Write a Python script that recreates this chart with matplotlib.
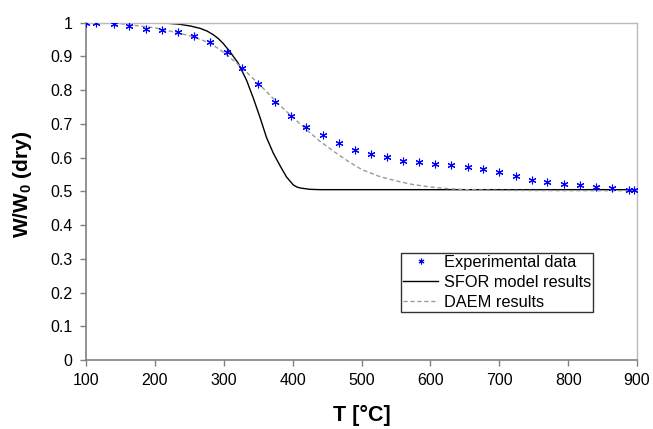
import matplotlib
matplotlib.use("Agg")
import matplotlib.pyplot as plt

plt.rcParams['font.family'] = ['Liberation Sans', 'DejaVu Sans']

# Experimental data
exp_T = [100, 115, 140, 163, 187, 210, 233, 257, 280, 304, 327, 350, 374, 397,
         420, 444, 467, 490, 514, 537, 560, 584, 607, 630, 654, 677, 700, 724,
         747, 770, 794, 817, 840, 864, 889, 896]
exp_W = [1.0, 1.0, 0.996, 0.990, 0.981, 0.978, 0.972, 0.961, 0.942, 0.912, 0.867,
         0.818, 0.766, 0.722, 0.691, 0.667, 0.644, 0.624, 0.611, 0.601, 0.591,
         0.587, 0.582, 0.577, 0.571, 0.566, 0.558, 0.546, 0.534, 0.527, 0.522,
         0.518, 0.513, 0.510, 0.505, 0.505]

# SFOR model
sfor_T = [100, 200, 215, 237, 252, 266, 276, 285, 292, 299, 309, 321, 333, 343,
          353, 362, 372, 382, 391, 401, 406, 411, 418, 425, 440, 900]
sfor_W = [1.0, 1.0, 0.999, 0.995, 0.99, 0.983, 0.975, 0.964, 0.953, 0.939, 0.914,
          0.880, 0.830, 0.776, 0.717, 0.660, 0.613, 0.575, 0.543, 0.519, 0.513,
          0.510, 0.508, 0.506, 0.505, 0.505]

# DAEM model
daem_T = [100, 150, 200, 250, 280, 300, 320, 340, 360, 380, 400, 420, 440, 460,
          480, 500, 525, 550, 575, 600, 625, 650, 700, 800, 900]
daem_W = [1.0, 0.997, 0.985, 0.962, 0.94, 0.912, 0.878, 0.84, 0.80, 0.758, 0.72,
          0.683, 0.648, 0.618, 0.59, 0.565, 0.545, 0.531, 0.52, 0.513, 0.508,
          0.505, 0.503, 0.502, 0.502]

x_ticks = [100, 200, 300, 400, 500, 600, 700, 800, 900]
y_ticks = [0, 0.1, 0.2, 0.3, 0.4, 0.5, 0.6, 0.7, 0.8, 0.9, 1]
y_labels = ['0', '0.1', '0.2', '0.3', '0.4', '0.5', '0.6', '0.7', '0.8', '0.9', '1']

fig = plt.figure(figsize=(6.53, 4.29), dpi=100)
ax = fig.add_axes([86/653, 1-360/429, 551/653, 337.3/429])

ax.plot(exp_T, exp_W, linestyle='none', marker=(6, 2, 0), markersize=5.5,
        markeredgewidth=0.8, color='#0000FF', label='Experimental data', zorder=3)
ax.plot(sfor_T, sfor_W, color='#000000', linewidth=1.0, label='SFOR model results', zorder=2)
ax.plot(daem_T, daem_W, color='#999999', linewidth=1.0, linestyle=(0, (3, 2)),
        label='DAEM results', zorder=2)

ax.set_xlim(100, 900)
ax.set_ylim(0, 1)
ax.set_xticks(x_ticks)
ax.set_yticks(y_ticks)
ax.set_yticklabels(y_labels)
ax.tick_params(axis='both', labelsize=11.5, labelcolor='#000000', color='#808080',
               length=4.3, width=1, direction='out')
ax.tick_params(axis='y', pad=5.5)
ax.tick_params(axis='x', pad=5)

for s in ['left', 'bottom']:
    ax.spines[s].set_color('#808080')
    ax.spines[s].set_linewidth(1.2)
for s in ['top', 'right']:
    ax.spines[s].set_color('#BBBBBB')
    ax.spines[s].set_linewidth(1.0)

ax.set_xlabel('T [°C]', fontsize=15.5, fontweight='bold')
ax.xaxis.set_label_coords(0.5, -0.133)
ax.set_ylabel(r'W/W$_\mathregular{0}$ (dry)', fontsize=15, fontweight='bold')
ax.yaxis.set_label_coords(-0.094, 0.522)

leg = ax.legend(loc='upper left', bbox_to_anchor=(0.5717, 0.318), borderaxespad=0,
                fontsize=11.8, frameon=True, fancybox=False, shadow=False,
                handlelength=2.1, handletextpad=0.36, borderpad=0.15,
                labelspacing=0.3, markerscale=0.75)
leg.get_frame().set_edgecolor('#000000')
leg.get_frame().set_linewidth(1.0)

fig.savefig('out.png', dpi=100)
